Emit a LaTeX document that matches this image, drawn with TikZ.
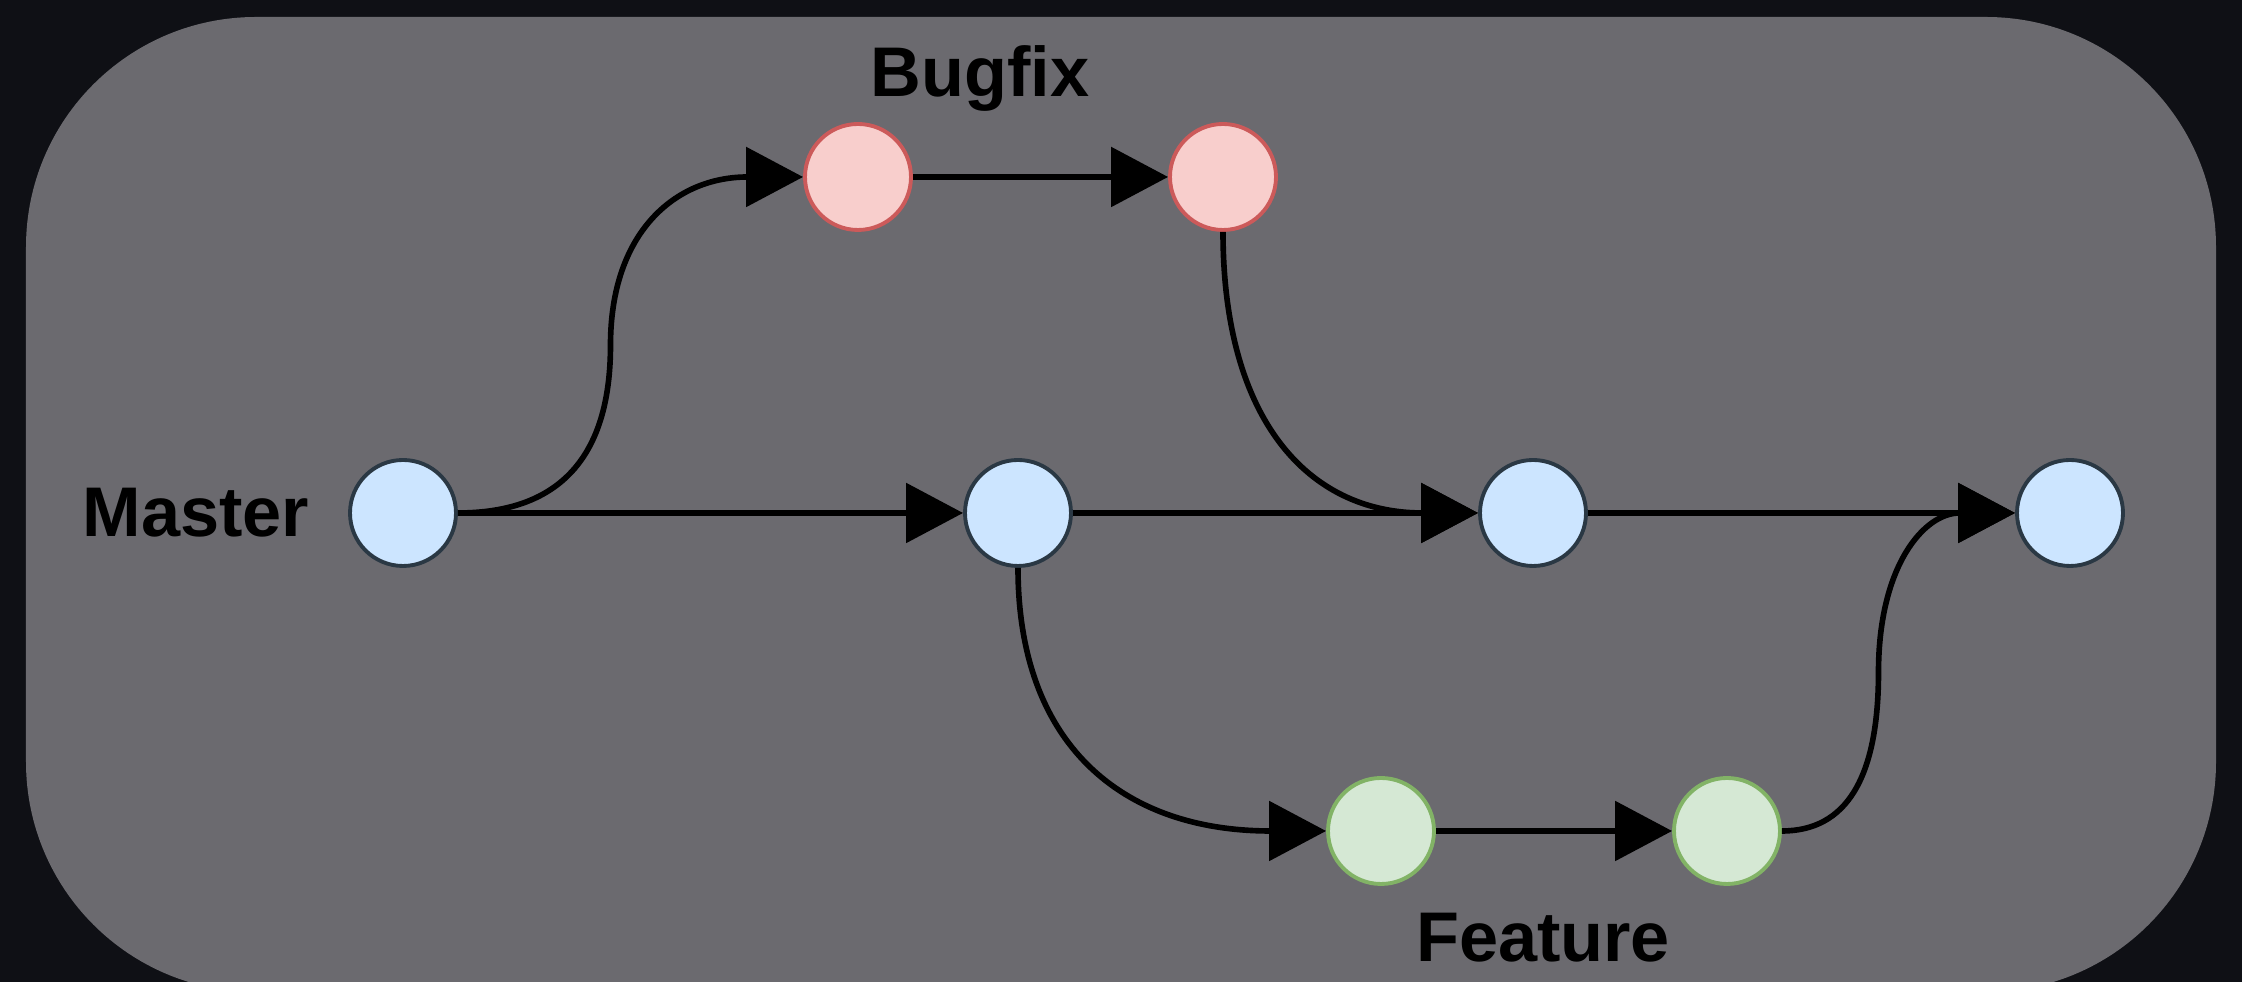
\documentclass[tikz,border=0pt]{standalone}
\usepackage{fontspec}
\setmainfont{Liberation Sans}
\usetikzlibrary{arrows.meta,positioning,calc}

\definecolor{night}{HTML}{0F1015}
\definecolor{slate}{HTML}{6B6A6F}
\definecolor{trunkline}{HTML}{2A3844}
\definecolor{trunkfill}{HTML}{CCE5FF}
\definecolor{fixline}{HTML}{CC5A5A}
\definecolor{fixfill}{HTML}{F8CECC}
\definecolor{featline}{HTML}{82B366}
\definecolor{featfill}{HTML}{D5E8D4}

\begin{document}
\begin{tikzpicture}[>={Triangle[length=5.7mm,width=5.9mm]},line width=1.6pt,node distance=2cm,on grid,
    commit/.style={circle,minimum size=1.06cm,inner sep=0pt,line width=1.1pt},
    trunk/.style={commit,draw=trunkline,fill=trunkfill},
    fix/.style={commit,draw=fixline,fill=fixfill},
    feat/.style={commit,draw=featline,fill=featfill},
    branch/.style={font=\bfseries\fontsize{20}{24}\selectfont,inner sep=0pt}]
      \useasboundingbox (0,0) rectangle (22.42,9.82);
      \fill[night] (0,0) rectangle (22.42,9.82);
      \fill[slate,rounded corners=2.3cm] (0.26,-0.10) rectangle (22.16,9.65);
      % commits
      \node[trunk] (m_0) at (4.03,4.69) {};
      \node[trunk] (m_1) [right=6.15cm of m_0] {};
      \node[trunk] (m_2) [right=5.15cm of m_1] {};
      \node[trunk] (m_3) [right=5.37cm of m_2] {};
      \node[fix] (b_0) [above right=3.36cm and 4.55cm of m_0] {};
      \node[fix] (b_1) [right=3.65cm of b_0] {};
      \node[feat] (f_0) [below right=3.18cm and 3.63cm of m_1] {};
      \node[feat] (f_1) [right=3.46cm of f_0] {};
      % branch names
      \node[branch] (master) [left=2.07cm of m_0] {Master};
      \node[branch] (bugfix) [above right=0.98cm and 1.22cm of b_0] {Bugfix};
      \node[branch] (feature) [below right=1.07cm and 1.62cm of f_0] {Feature};
      % turning points of the curved edges
      \coordinate (k_0) at ($(m_0)!.5!(b_0)+(-0.2,0)$);
      \coordinate (k_1) at ($(f_1)!.5!(m_3)+(-0.2,0)$);
        \path[->]
        (m_0) edge (m_1)
        (m_1) edge (m_2)
        (m_2) edge (m_3)
        (b_0) edge (b_1)
        (f_0) edge (f_1);
        \draw[->] (m_0.east)
          .. controls ($(m_0.east)!2/3!(m_0 -| k_0)$) and ($(k_0)!2/3!(m_0 -| k_0)$) .. (k_0)
          .. controls ($(k_0)!2/3!(k_0 |- b_0)$) and ($(b_0.west)!2/3!(k_0 |- b_0)$) .. (b_0.west);
        \draw[->] (b_1.south)
          .. controls ($(b_1.south)!2/3!(b_1 |- m_2)$) and ($(m_2.west)!2/3!(b_1 |- m_2)$) .. (m_2.west);
        \draw[->] (m_1.south)
          .. controls ($(m_1.south)!2/3!(m_1 |- f_0)$) and ($(f_0.west)!2/3!(m_1 |- f_0)$) .. (f_0.west);
        \draw[->] (f_1.east)
          .. controls ($(f_1.east)!2/3!(f_1 -| k_1)$) and ($(k_1)!2/3!(f_1 -| k_1)$) .. (k_1)
          .. controls ($(k_1)!2/3!(k_1 |- m_3)$) and ($(m_3.west)!2/3!(k_1 |- m_3)$) .. (m_3.west);
    \end{tikzpicture}
\end{document}
